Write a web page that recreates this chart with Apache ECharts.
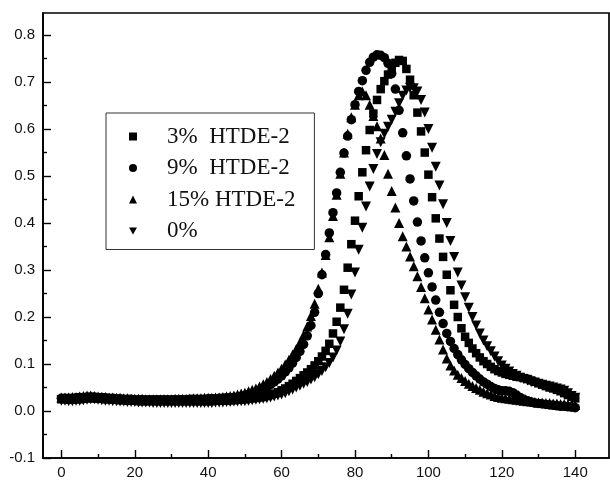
<!DOCTYPE html>
<html>
<head>
<meta charset="utf-8">
<title>HTDE-2</title>
<script src="https://cdn.jsdelivr.net/npm/echarts@6/dist/echarts.min.js"></script>
<style>
  html, body { margin: 0; padding: 0; background: #fff; }
  #main { width: 610px; height: 482px; }
</style>
</head>
<body>
<div id="main"></div>
<script>
// x positions of the samples
var xs = [
  0, 1, 2, 3, 4, 5, 6, 7, 8, 9,
  10, 11, 12, 13, 14, 15, 16, 17, 18, 19,
  20, 21, 22, 23, 24, 25, 26, 27, 28, 29,
  30, 31, 32, 33, 34, 35, 36, 37, 38, 39,
  40, 41, 42, 43, 44, 45, 46, 47, 48, 49,
  50, 51, 52, 53, 54, 55, 56, 57, 58, 59,
  60, 61, 62, 63, 64, 65, 66, 67, 68, 69,
  70, 71, 72, 73, 74, 75, 76, 77, 78, 79,
  80, 81, 82, 83, 84, 85, 86, 87, 88, 89,
  90, 91, 92, 93, 94, 95, 96, 97, 98, 99,
  100, 101, 102, 103, 104, 105, 106, 107, 108, 109,
  110, 111, 112, 113, 114, 115, 116, 117, 118, 119,
  120, 121, 122, 123, 124, 125, 126, 127, 128, 129,
  130, 131, 132, 133, 134, 135, 136, 137, 138, 139,
  140
];

// 3% HTDE-2 (square)
var s3 = [
  0.025, 0.025, 0.024, 0.024, 0.025, 0.025, 0.026, 0.027, 0.027, 0.027,
  0.026, 0.026, 0.025, 0.025, 0.024, 0.024, 0.023, 0.023, 0.022, 0.022,
  0.022, 0.021, 0.021, 0.021, 0.021, 0.021, 0.021, 0.021, 0.021, 0.021,
  0.021, 0.021, 0.021, 0.021, 0.021, 0.021, 0.021, 0.021, 0.021, 0.021,
  0.021, 0.021, 0.022, 0.022, 0.022, 0.022, 0.023, 0.023, 0.024, 0.024,
  0.025, 0.026, 0.027, 0.028, 0.029, 0.030, 0.032, 0.034, 0.037, 0.040,
  0.044, 0.048, 0.053, 0.058, 0.064, 0.070, 0.076, 0.082, 0.089, 0.097,
  0.106, 0.116, 0.128, 0.143, 0.165, 0.190, 0.220, 0.258, 0.305, 0.355,
  0.405, 0.457, 0.508, 0.555, 0.598, 0.633, 0.662, 0.685, 0.702, 0.716,
  0.729, 0.741, 0.747, 0.745, 0.728, 0.705, 0.672, 0.635, 0.595, 0.550,
  0.503, 0.455, 0.410, 0.367, 0.328, 0.290, 0.257, 0.226, 0.200, 0.176,
  0.158, 0.145, 0.133, 0.123, 0.114, 0.106, 0.100, 0.094, 0.089, 0.085,
  0.082, 0.079, 0.077, 0.075, 0.073, 0.072, 0.070, 0.068, 0.065, 0.062,
  0.059, 0.056, 0.053, 0.050, 0.048, 0.045, 0.042, 0.038, 0.034, 0.030,
  0.027
];

// 9% HTDE-2 (circle)
var s9 = [
  0.027, 0.027, 0.027, 0.027, 0.028, 0.029, 0.029, 0.030, 0.030, 0.030,
  0.029, 0.029, 0.028, 0.027, 0.027, 0.026, 0.026, 0.025, 0.025, 0.025,
  0.024, 0.024, 0.024, 0.024, 0.024, 0.024, 0.024, 0.024, 0.024, 0.024,
  0.024, 0.024, 0.024, 0.024, 0.024, 0.025, 0.025, 0.025, 0.025, 0.025,
  0.026, 0.026, 0.026, 0.027, 0.027, 0.028, 0.028, 0.029, 0.030, 0.031,
  0.033, 0.035, 0.037, 0.040, 0.043, 0.047, 0.051, 0.056, 0.062, 0.068,
  0.075, 0.083, 0.092, 0.102, 0.114, 0.127, 0.142, 0.160, 0.182, 0.210,
  0.250, 0.290, 0.333, 0.379, 0.422, 0.464, 0.508, 0.549, 0.585, 0.620,
  0.652, 0.680, 0.703, 0.725, 0.742, 0.753, 0.758, 0.757, 0.752, 0.740,
  0.718, 0.685, 0.640, 0.592, 0.543, 0.494, 0.447, 0.402, 0.362, 0.326,
  0.294, 0.264, 0.236, 0.210, 0.186, 0.165, 0.148, 0.133, 0.120, 0.109,
  0.099, 0.090, 0.082, 0.075, 0.068, 0.062, 0.057, 0.052, 0.048, 0.045,
  0.043, 0.043, 0.042, 0.039, 0.034, 0.029, 0.025, 0.022, 0.019, 0.017,
  0.016, 0.015, 0.014, 0.013, 0.012, 0.011, 0.010, 0.010, 0.009, 0.008,
  0.007
];

// 15% HTDE-2 (triangle)
var s15 = [
  0.029, 0.029, 0.029, 0.030, 0.030, 0.031, 0.032, 0.033, 0.033, 0.032,
  0.031, 0.030, 0.030, 0.029, 0.029, 0.028, 0.028, 0.027, 0.027, 0.026,
  0.026, 0.026, 0.026, 0.025, 0.025, 0.025, 0.025, 0.025, 0.025, 0.025,
  0.025, 0.026, 0.026, 0.026, 0.026, 0.026, 0.027, 0.027, 0.027, 0.028,
  0.028, 0.028, 0.029, 0.029, 0.030, 0.031, 0.032, 0.033, 0.035, 0.037,
  0.039, 0.042, 0.045, 0.048, 0.052, 0.057, 0.062, 0.068, 0.075, 0.082,
  0.090, 0.099, 0.109, 0.120, 0.132, 0.146, 0.162, 0.180, 0.202, 0.228,
  0.260, 0.295, 0.332, 0.370, 0.415, 0.460, 0.505, 0.550, 0.590, 0.625,
  0.652, 0.672, 0.680, 0.672, 0.652, 0.628, 0.606, 0.580, 0.545, 0.505,
  0.468, 0.433, 0.400, 0.372, 0.350, 0.329, 0.308, 0.287, 0.264, 0.240,
  0.216, 0.195, 0.173, 0.152, 0.131, 0.112, 0.097, 0.086, 0.077, 0.070,
  0.064, 0.058, 0.053, 0.049, 0.045, 0.041, 0.038, 0.035, 0.032, 0.030,
  0.028, 0.027, 0.026, 0.025, 0.024, 0.023, 0.022, 0.021, 0.020, 0.019,
  0.018, 0.018, 0.017, 0.017, 0.016, 0.016, 0.015, 0.015, 0.014, 0.014,
  0.013
];

// 0% (down triangle)
var s0 = [
  0.022, 0.022, 0.021, 0.021, 0.022, 0.022, 0.023, 0.024, 0.025, 0.025,
  0.024, 0.023, 0.022, 0.022, 0.021, 0.021, 0.020, 0.020, 0.019, 0.019,
  0.019, 0.018, 0.018, 0.018, 0.018, 0.017, 0.017, 0.017, 0.017, 0.017,
  0.017, 0.017, 0.017, 0.017, 0.017, 0.017, 0.017, 0.017, 0.017, 0.017,
  0.017, 0.017, 0.018, 0.018, 0.018, 0.019, 0.019, 0.020, 0.020, 0.021,
  0.021, 0.022, 0.023, 0.024, 0.025, 0.026, 0.027, 0.029, 0.031, 0.033,
  0.035, 0.038, 0.042, 0.046, 0.050, 0.054, 0.058, 0.062, 0.067, 0.072,
  0.078, 0.085, 0.093, 0.102, 0.114, 0.129, 0.148, 0.174, 0.207, 0.248,
  0.295, 0.343, 0.390, 0.435, 0.478, 0.515, 0.547, 0.572, 0.590, 0.605,
  0.620, 0.637, 0.655, 0.671, 0.682, 0.688, 0.687, 0.680, 0.662, 0.635,
  0.600, 0.560, 0.520, 0.480, 0.440, 0.400, 0.362, 0.328, 0.295, 0.267,
  0.242, 0.220, 0.200, 0.182, 0.165, 0.150, 0.138, 0.127, 0.116, 0.106,
  0.097, 0.090, 0.084, 0.079, 0.075, 0.071, 0.068, 0.065, 0.062, 0.060,
  0.058, 0.056, 0.054, 0.052, 0.050, 0.048, 0.046, 0.043, 0.038, 0.032,
  0.028
];

var names = ['3%  HTDE-2', '9%  HTDE-2', '15% HTDE-2', '0%'];

// tick labels
var xTicks = [0, 20, 40, 60, 80, 100, 120, 140];
var xMinorTicks = [10, 30, 50, 70, 90, 110, 130];
var yTicks = [-0.1, 0, 0.1, 0.2, 0.3, 0.4, 0.5, 0.6, 0.7, 0.8];
var yMinorTicks = [-0.05, 0.05, 0.15, 0.25, 0.35, 0.45, 0.55, 0.65, 0.75];

var ink = '#000';
var downTri = 'path://M0,0L10,0L5,9Z';

function pairs(ys) {
  return xs.map(function (x, i) { return [x, ys[i]]; });
}

var chart = echarts.init(document.getElementById('main'));

// 主轴（带标签）+ 次刻度轴（只画短刻度），都贴在 grid 边上，不跟随 0 点
var xMajor = {
  type: 'value', min: -5, max: 149.2, position: 'bottom',
  axisLine: { show: true, onZero: false, lineStyle: { color: ink, width: 1.7 } },
  axisTick: { show: true, inside: true, length: 8, customValues: xTicks, lineStyle: { color: ink, width: 1.4 } },
  axisLabel: { show: true, customValues: xTicks, margin: 7, color: '#111', fontFamily: 'Liberation Sans', fontSize: 15 },
  splitLine: { show: false }
};
var xMinor = {
  type: 'value', min: -5, max: 149.2, position: 'bottom',
  axisLine: { show: false, onZero: false },
  axisTick: { show: true, inside: true, length: 4, customValues: xMinorTicks, lineStyle: { color: ink, width: 1.4 } },
  axisLabel: { show: false },
  splitLine: { show: false }
};
var yMajor = {
  type: 'value', min: -0.1, max: 0.847, position: 'left',
  axisLine: { show: true, onZero: false, lineStyle: { color: ink, width: 1.7 } },
  axisTick: { show: true, inside: true, length: 8, customValues: yTicks, lineStyle: { color: ink, width: 1.4 } },
  axisLabel: {
    show: true, customValues: yTicks, margin: 8, color: '#111', fontFamily: 'Liberation Sans', fontSize: 15,
    formatter: function (v) { return v.toFixed(1); }
  },
  splitLine: { show: false }
};
var yMinor = {
  type: 'value', min: -0.1, max: 0.847, position: 'left',
  axisLine: { show: false, onZero: false },
  axisTick: { show: true, inside: true, length: 4, customValues: yMinorTicks, lineStyle: { color: ink, width: 1.4 } },
  axisLabel: { show: false },
  splitLine: { show: false }
};

// scatter 默认透明度 0.8，这里改成实心黑
function scatter(name, symbol, size, ys) {
  return {
    name: name,
    type: 'scatter',
    symbol: symbol,
    symbolSize: size,
    itemStyle: { color: ink, opacity: 1 },
    data: pairs(ys)
  };
}

chart.setOption({
  animation: false,
  backgroundColor: '#fff',
  grid: {
    left: 43, right: 1, top: 13, bottom: 24,
    show: true, borderColor: ink, borderWidth: 1.7, backgroundColor: 'transparent'
  },
  xAxis: [xMajor, xMinor],
  yAxis: [yMajor, yMinor],
  legend: {
    orient: 'vertical',
    left: 106, top: 113,
    data: names,
    backgroundColor: '#fff',
    borderColor: '#333', borderWidth: 1,
    padding: [12, 19, 7, 23],
    itemWidth: 8, itemHeight: 8, itemGap: 8.5,
    selectedMode: false,
    itemStyle: { opacity: 1 },
    textStyle: { fontFamily: 'Liberation Serif', fontSize: 23, lineHeight: 23, color: '#111', padding: [0, 0, 0, 25] }
  },
  series: [
    scatter(names[0], 'rect', 8.5, s3),
    scatter(names[1], 'circle', 9.5, s9),
    scatter(names[2], 'triangle', 10, s15),
    scatter(names[3], downTri, 10, s0)
  ]
});
</script>
</body>
</html>
